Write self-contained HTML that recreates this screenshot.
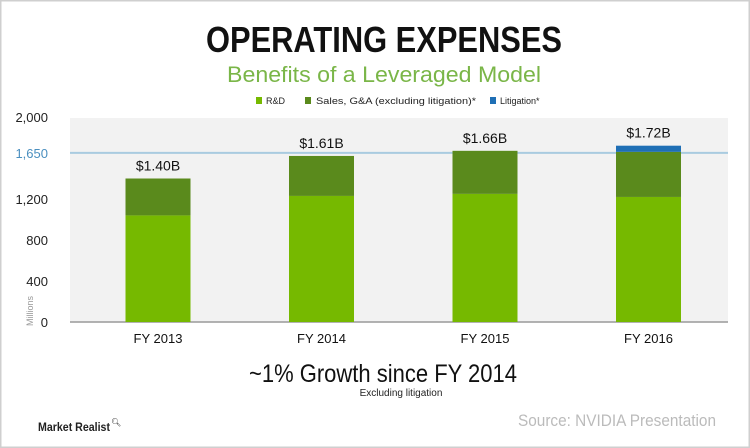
<!DOCTYPE html>
<html><head><meta charset="utf-8"><style>
html,body{margin:0;padding:0;background:#fff}
svg{display:block;font-family:"Liberation Sans",sans-serif}
</style></head><body>
<svg id="chart" width="750" height="448" viewBox="0 0 750 448">
<rect x="0.5" y="0.5" width="749" height="447" fill="#fff" stroke="#cfcfcf" stroke-width="2"/>
<text x="384" y="52" text-anchor="middle" font-size="36" font-weight="bold" textLength="356" lengthAdjust="spacingAndGlyphs" fill="#111">OPERATING EXPENSES</text>
<text x="384" y="82" text-anchor="middle" font-size="22" textLength="314" lengthAdjust="spacingAndGlyphs" fill="#7ab648">Benefits of a Leveraged Model</text>
<g>
<rect x="256" y="97" width="6" height="7" fill="#76b900"/>
<text x="266" y="104" font-size="9" fill="#222">R&amp;D</text>
<rect x="305" y="97" width="6" height="7" fill="#5a8a1c"/>
<text x="316" y="104" font-size="9" fill="#222" textLength="160" lengthAdjust="spacingAndGlyphs">Sales, G&amp;A (excluding litigation)*</text>
<rect x="490" y="97" width="6" height="7" fill="#1f6fb5"/>
<text x="500" y="104" font-size="9" fill="#222">Litigation*</text>
</g>
<rect x="70" y="118" width="658" height="204" fill="#f2f2f2"/>
<g id="marks"></g>
<text x="383" y="382" text-anchor="middle" font-size="25" textLength="268" lengthAdjust="spacingAndGlyphs" fill="#111">~1% Growth since FY 2014</text>
<text x="401" y="396" text-anchor="middle" font-size="10" fill="#222">Excluding litigation</text>
<text x="716" y="426" text-anchor="end" font-size="17" textLength="198" lengthAdjust="spacingAndGlyphs" fill="#bbb">Source: NVIDIA Presentation</text>
<text x="38" y="431" font-size="12" font-weight="bold" textLength="72" lengthAdjust="spacingAndGlyphs" fill="#222">Market Realist</text>
<text x="111" y="425" font-size="8" fill="#222">🔍︎</text>
</svg>
<script>
const categories=["FY 2013","FY 2014","FY 2015","FY 2016"];
const rdValues=[1040,1230,1250,1220];
const sgaValues=[360,390,420,440];
const litigationValues=[0,0,0,60];
const totalLabels=["$1.40B","$1.61B","$1.66B","$1.72B"];
const yTicks=[0,400,800,1200,1650,2000];
const yTickLabels=["0","400","800","1,200","1,650","2,000"];
const NS="http://www.w3.org/2000/svg";
const g=document.getElementById("marks");
const y0=322,yTop=117,vmax=2000;
const yScale=v=>y0-(v/vmax)*(y0-yTop);
const xCenter=i=>158+i*163.5;
const bw=65;
function mk(tag,attrs,txt){const e=document.createElementNS(NS,tag);for(const k in attrs)e.setAttribute(k,attrs[k]);if(txt!==undefined)e.textContent=txt;g.appendChild(e);return e;}
// ref line at 1650
let rl=mk("line",{x1:70,x2:728,y1:yScale(1650),y2:yScale(1650),stroke:"#a9cbe0","stroke-width":2});


yTicks.forEach((t,i)=>{
  const tl=mk("text",{x:48,y:yScale(t)+5,"text-anchor":"end","font-size":13,fill:t===1650?"#4a8fbf":"#222"},yTickLabels[i]);
  
  
});
const ax=mk("line",{x1:70,x2:728,y1:y0,y2:y0,stroke:"#999","stroke-width":1.5});


const yt=mk("text",{x:0,y:0,"font-size":9,fill:"#999",transform:"translate(33,326) rotate(-90)"},"Millions");


categories.forEach((c,i)=>{
  const x=xCenter(i)-bw/2;
  let base=0;
  [[rdValues[i],"#76b900","bar-rd"],[sgaValues[i],"#5a8a1c","bar-sga"],[litigationValues[i],"#1f6fb5","bar-litigation"]].forEach(([v,col,nm])=>{
    if(v<=0)return;
    const r=mk("rect",{x:x,y:yScale(base+v),width:bw,height:yScale(base)-yScale(base+v),fill:col});
    
    
    base+=v;
  });
  const tl=mk("text",{x:xCenter(i),y:yScale(base)-8,"text-anchor":"middle","font-size":14,fill:"#111"},totalLabels[i]);
  
  
  const xl=mk("text",{x:xCenter(i),y:343,"text-anchor":"middle","font-size":13,fill:"#111"},c);
  
  
});
</script>
</body></html>
